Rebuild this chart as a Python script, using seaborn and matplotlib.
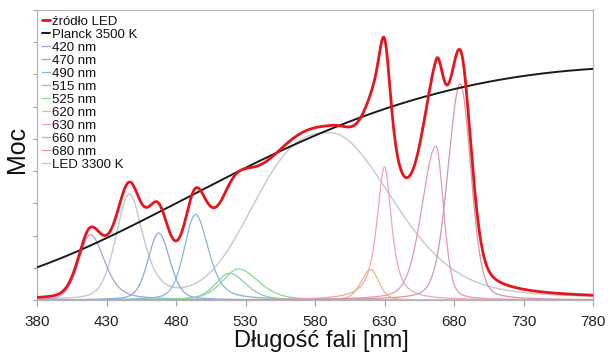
import numpy as np
import pandas as pd
import matplotlib
matplotlib.use("Agg")
import matplotlib.pyplot as plt
import seaborn as sns

# ---- data ----
labels = ["420 nm", "470 nm", "490 nm", "515 nm", "525 nm",
          "620 nm", "630 nm", "660 nm", "680 nm"]
centers = [418.5, 467.5, 494.0, 518.5, 525.0, 620.0, 630.0, 667.0, 684.5]
heights = [0.225, 0.231, 0.295, 0.092, 0.107, 0.105, 0.459, 0.530, 0.745]
hwhm_left = [10.0, 9.0, 9.5, 12.0, 14.0, 8.0, 6.5, 12.0, 10.5]
hwhm_right = [12.0, 9.5, 11.0, 14.0, 17.0, 7.0, 6.0, 6.5, 9.0]
eta_left = [0.2, 0.3, 0.3, 0.4, 0.4, 0.3, 0.8, 0.3, 0.25]
eta_right = [0.5, 0.3, 0.5, 0.4, 0.4, 0.3, 0.8, 0.3, 0.25]
colors = ["#a4a0d8", "#8fa8dc", "#82b8d4", "#8ccab8", "#86dc8c",
          "#f2b27a", "#f0a4b4", "#e898ac", "#d496aa"]

# white LED 3300 K: blue chip + phosphor band
led_centers = [446.5, 591.0]
led_heights = [0.365, 0.575]
led_hwhm_left = [11.5, 59.3]
led_hwhm_right = [12.0, 53.0]
led_eta_left = [0.3, 0.0]
led_eta_right = [0.7, 0.3]
led_power_left = [2.0, 2.7]

planck_T = 3500.0
planck_at_780 = 0.797

xticks = [380, 430, 480, 530, 580, 630, 680, 730, 780]
wl = np.arange(380.0, 780.25, 0.25)


def peak(x, c, h, wlft, wrgt, el, er, pl=2.0):
    left = x < c
    w = np.where(left, wlft, wrgt)
    eta = np.where(left, el, er)
    p = np.where(left, pl, 2.0)
    d = np.abs(x - c) / w
    return h * ((1 - eta) * np.exp(-np.log(2) * d ** p) + eta / (1 + d ** 2))


comps = [peak(wl, *args) for args in
         zip(centers, heights, hwhm_left, hwhm_right, eta_left, eta_right)]
led = sum(peak(wl, *args) for args in
          zip(led_centers, led_heights, led_hwhm_left, led_hwhm_right,
              led_eta_left, led_eta_right, led_power_left))
total = sum(comps) + led


def planck(lam, T):
    x = 1.4388e7 / (lam * T)
    return lam ** -5 / np.expm1(x)


bb = planck(wl, planck_T) / planck(780.0, planck_T) * planck_at_780

# ---- plot ----
sns.set_theme(style="white")
plt.rcParams["font.family"] = ["Liberation Sans", "DejaVu Sans"]

fig = plt.figure(figsize=(6.09, 3.56), dpi=100)
ax = fig.add_axes([37 / 609, 56 / 356, 556 / 609, 290 / 356])

sns.lineplot(x=wl, y=total, ax=ax, color="#e8141c", lw=2.0, label="źródło LED", zorder=10)
sns.lineplot(x=wl, y=bb, ax=ax, color="#1a1a1a", lw=1.4, label="Planck 3500 K", zorder=9)
for lab, y, col in zip(labels, comps, colors):
    sns.lineplot(x=wl, y=y, ax=ax, color=col, lw=0.9, label=lab, zorder=3)
sns.lineplot(x=wl, y=led, ax=ax, color="#c4c8d0", lw=1.0, label="LED 3300 K", zorder=2)

ax.set_xlim(380, 780)
ax.set_ylim(0, 1.0)
ax.set_xticks(xticks)
ax.set_xticklabels([str(t) for t in xticks])
ax.set_yticks(np.arange(0, 1.0001, 1 / 9))
ax.set_yticklabels([])
ax.tick_params(axis="x", direction="out", length=4, width=0.8, color="#a0a0a0",
               labelsize=11, labelcolor="#222222", pad=7)
ax.tick_params(axis="y", direction="out", length=3, width=0.8, color="#a0a0a0")
ax.tick_params(left=True, bottom=True)
for s in ax.spines.values():
    s.set_color("#b4b4b4")
    s.set_linewidth(0.9)

ax.set_xlabel("Długość fali [nm]", fontsize=17, color="#111111")
ax.set_ylabel("Moc", fontsize=18, color="#111111")
ax.xaxis.set_label_coords(0.512, -0.103)
ax.yaxis.set_label_coords(-0.014, 0.52)

leg = ax.legend(loc="upper left", frameon=False, fontsize=9.5, handlelength=0.6,
                handletextpad=0.15, labelspacing=0.06, borderaxespad=0.3,
                borderpad=0.1)
for t in leg.get_texts():
    t.set_color("#111111")

fig.savefig("out.png", dpi=100)
